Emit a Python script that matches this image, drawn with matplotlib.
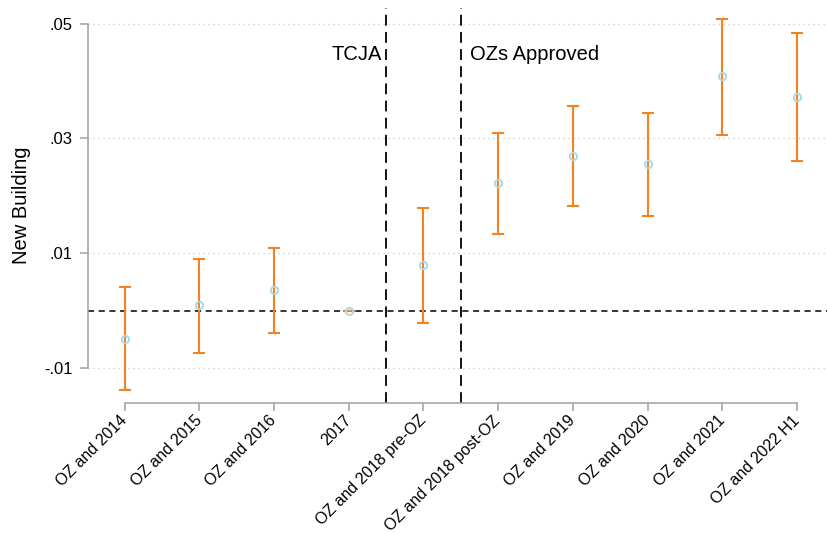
import matplotlib
matplotlib.use("Agg")
import matplotlib.pyplot as plt
import matplotlib.transforms as mtransforms
import numpy as np

plt.rcParams['font.family'] = ['Liberation Sans', 'DejaVu Sans']

categories = ["OZ and 2014", "OZ and 2015", "OZ and 2016", "2017",
              "OZ and 2018 pre-OZ", "OZ and 2018 post-OZ", "OZ and 2019",
              "OZ and 2020", "OZ and 2021", "OZ and 2022 H1"]
estimate = [-0.0050, 0.0010, 0.0036, 0.0000, 0.0079, 0.0222, 0.0269, 0.0255, 0.0409, 0.0372]
ci_low = [-0.0139, -0.0074, -0.0039, 0.0000, -0.0022, 0.0133, 0.0182, 0.0165, 0.0306, 0.0261]
ci_high = [0.0041, 0.0090, 0.0109, 0.0000, 0.0179, 0.0310, 0.0357, 0.0344, 0.0508, 0.0484]
yticks = [-0.01, 0.01, 0.03, 0.05]
ytick_labels = ["-.01", ".01", ".03", ".05"]

W, H = 827, 534
fig = plt.figure(figsize=(W / 100, H / 100), dpi=100)
left, right, top, bottom = 88, 827, 8, 403
ax = fig.add_axes([left / W, 1 - bottom / H, (right - left) / W, (bottom - top) / H])

x = np.arange(len(categories))
est = np.array(estimate)
lo = np.array(ci_low)
hi = np.array(ci_high)

orange = '#F5821F'
ax.errorbar(x, est, yerr=[est - lo, hi - est], fmt='none', ecolor=orange,
            elinewidth=1.5, capsize=4.5, capthick=1.5, zorder=3)
ax.plot(x, est, 'o', ms=5.2, mfc='none', mec='#A9D8E8', mew=1.4, zorder=4)

ax.axhline(0, color='black', lw=1.1, ls=(0, (4, 3)), zorder=2)
for xv in (3.5, 4.5):
    ax.axvline(xv, color='black', lw=1.3, ls=(0, (6, 3.5)), zorder=2)

ax.text(3.45, 0.0447, "TCJA", ha='right', va='center', fontsize=14.5)
ax.text(4.63, 0.0447, "OZs Approved", ha='left', va='center', fontsize=14.5)

ax.set_xlim(-0.489, 9.402)
ax.set_ylim(-0.01613, 0.05275)

ax.set_yticks(yticks)
ax.set_yticklabels(ytick_labels, fontsize=12)
ax.set_xticks(x)
ax.set_xticklabels(categories, rotation=45, ha='right', va='center',
                   rotation_mode='anchor', fontsize=11.5)
shift = mtransforms.ScaledTranslation(-3 / 100, 0, fig.dpi_scale_trans)
for lab in ax.get_xticklabels():
    lab.set_transform(lab.get_transform() + shift)
ax.tick_params(axis='both', length=6, width=1.1, color='#a0a0a0')
ax.tick_params(axis='x', pad=5)
ax.tick_params(axis='y', pad=5)

for yv in yticks:
    ax.axhline(yv, color='#c8c8c8', lw=0.9, ls=(0, (1, 3)), zorder=1)

for s in ('top', 'right'):
    ax.spines[s].set_visible(False)
ax.spines['left'].set_bounds(-0.01, 0.05)
ax.spines['bottom'].set_bounds(0, 9)
for s in ('left', 'bottom'):
    ax.spines[s].set_color('#a0a0a0')
    ax.spines[s].set_linewidth(1.1)

ax.set_ylabel("New Building", fontsize=14.5)
ax.yaxis.set_label_coords(-57 / (right - left), 0.5)

fig.savefig("out.png", dpi=100)
